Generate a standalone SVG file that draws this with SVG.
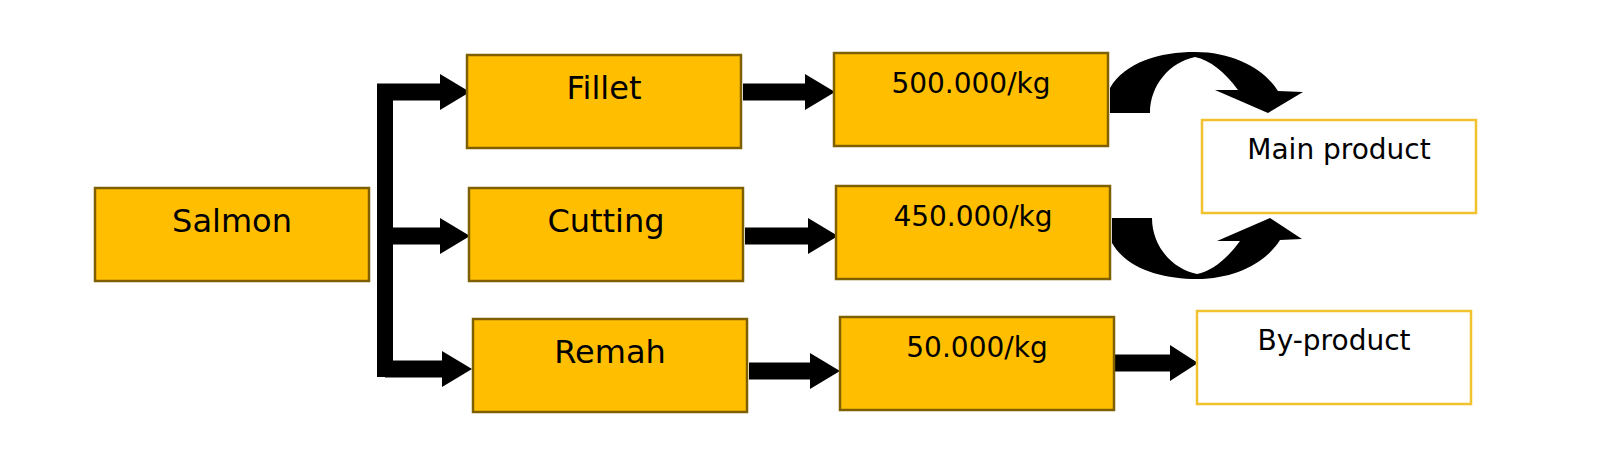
<svg xmlns="http://www.w3.org/2000/svg" width="1600" height="458" viewBox="0 0 1600 458">
<style>
.n{fill:#FFBF00;stroke:#7F6000;stroke-width:2.5}
.o{fill:#fff;stroke:#F2C12E;stroke-width:2.5}
text{font-family:"DejaVu Sans",sans-serif;fill:#000;text-anchor:middle}
.t{font-size:32px}.p{font-size:28px}
</style>
<defs><marker id="a" markerWidth="4" markerHeight="4" refX="0" refY="2" orient="auto" markerUnits="strokeWidth"><path d="M0,0L2,2L0,4Z" fill="#000"/></marker></defs>
<rect width="1600" height="458" fill="#fff"/>
<g id="connectors" fill="#000">
<path d="M385,84V377" stroke="#000" stroke-width="16" fill="none"/>
<path d="M377,92H440M385,236H440M385,369H442M743,92H805M745,236H808M749,371H810M1114,363H1170" stroke="#000" stroke-width="17" fill="none"/>
<path d="M440,74L470,92L440,110Z M440,218L470,236L440,254Z M442,351L472,369L442,387Z M805,74L835,92L805,110Z M808,218L838,236L808,254Z M810,353L840,371L810,389Z M1170,345L1198,363L1170,381Z"/>
<path id="c1" d="M1110,113L1110,88C1125,62 1160,52 1195,52C1235,52 1265,70 1278,91L1303,92L1268,113L1215,90L1238,90C1225,72 1210,60 1195,57C1170,62 1150,85 1150,113Z"/>
<path d="M1110,113L1110,88C1125,62 1160,52 1195,52C1235,52 1265,70 1278,91L1300,92L1268,113L1215,90L1238,90C1225,72 1210,60 1195,57C1170,62 1150,85 1150,113Z" transform="translate(2,331) scale(1,-1)"/>
</g>
<g id="salmon"><rect class="n" x="95" y="188" width="274" height="93"/><text class="t" x="232" y="232">Salmon</text></g>
<g id="fillet"><rect class="n" x="467" y="55" width="274" height="93"/><text class="t" x="604" y="99">Fillet</text></g>
<g id="cutting"><rect class="n" x="469" y="188" width="274" height="93"/><text class="t" x="606" y="232">Cutting</text></g>
<g id="remah"><rect class="n" x="473" y="319" width="274" height="93"/><text class="t" x="610" y="363">Remah</text></g>
<g id="p500"><rect class="n" x="834" y="53" width="274" height="93"/><text class="p" x="971" y="93">500.000/kg</text></g>
<g id="p450"><rect class="n" x="836" y="186" width="274" height="93"/><text class="p" x="973" y="226">450.000/kg</text></g>
<g id="p50"><rect class="n" x="840" y="317" width="274" height="93"/><text class="p" x="977" y="357">50.000/kg</text></g>
<g id="main"><rect class="o" x="1202" y="120" width="274" height="93"/><text class="p" x="1339" y="159">Main product</text></g>
<g id="by"><rect class="o" x="1197" y="311" width="274" height="93"/><text class="p" x="1334" y="350">By-product</text></g>
</svg>
